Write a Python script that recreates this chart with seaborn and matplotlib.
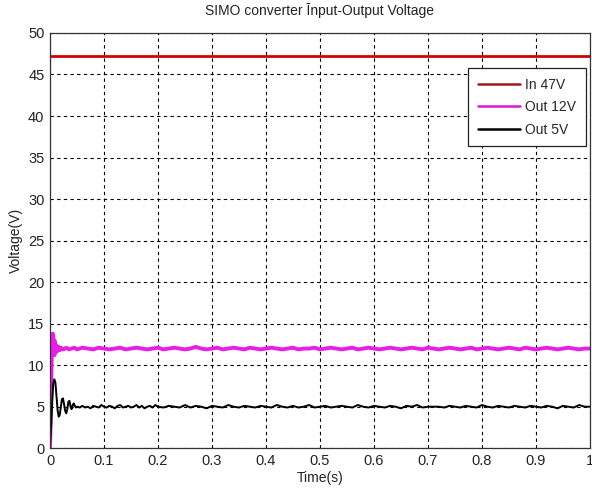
import matplotlib
matplotlib.use("Agg")
import matplotlib.pyplot as plt
import seaborn as sns
import numpy as np
import pandas as pd

sns.set_style("white")
plt.rcParams['font.family'] = ['Liberation Sans', 'DejaVu Sans']

title = "SIMO converter Īnput-Output Voltage"
x_ticks = [0, 0.1, 0.2, 0.3, 0.4, 0.5, 0.6, 0.7, 0.8, 0.9, 1.0]
x_tick_labels = ["0", "0.1", "0.2", "0.3", "0.4", "0.5", "0.6", "0.7", "0.8", "0.9", "1"]
y_ticks = [0, 5, 10, 15, 20, 25, 30, 35, 40, 45, 50]

# Input 47V
t_in = [0.0, 1.0]
v_in = [47.2, 47.2]

# Output 12V
t_12 = [0.0, 0.001, 0.002, 0.003, 0.004, 0.005, 0.006, 0.007, 0.008, 0.009, 0.010,
        0.012, 0.014, 0.016, 0.018, 0.020, 0.025, 0.030, 0.035, 0.040, 0.045,
        0.05, 0.06, 0.07, 0.08, 0.09, 0.10, 0.11, 0.12, 0.13, 0.14, 0.15, 0.16, 0.17, 0.18, 0.19,
        0.20, 0.21, 0.22, 0.23, 0.24, 0.25, 0.26, 0.27, 0.28, 0.29, 0.30, 0.31, 0.32, 0.33, 0.34,
        0.35, 0.36, 0.37, 0.38, 0.39, 0.40, 0.41, 0.42, 0.43, 0.44, 0.45, 0.46, 0.47, 0.48, 0.49,
        0.50, 0.51, 0.52, 0.53, 0.54, 0.55, 0.56, 0.57, 0.58, 0.59, 0.60, 0.61, 0.62, 0.63, 0.64,
        0.65, 0.66, 0.67, 0.68, 0.69, 0.70, 0.71, 0.72, 0.73, 0.74, 0.75, 0.76, 0.77, 0.78, 0.79,
        0.80, 0.81, 0.82, 0.83, 0.84, 0.85, 0.86, 0.87, 0.88, 0.89, 0.90, 0.91, 0.92, 0.93, 0.94,
        0.95, 0.96, 0.97, 0.98, 0.99, 1.00]
v_12 = [0.0, 3.0, 7.0, 10.5, 12.5, 13.8, 13.5, 12.8, 11.2, 12.9, 11.5,
        12.4, 11.7, 12.2, 11.8, 12.1, 11.9, 12.1, 11.9, 12.0, 12.1,
        11.9, 12.1, 12.0, 11.9, 12.1, 12.0, 11.9, 12.0, 12.1, 11.9, 12.0, 12.1, 12.0, 11.9, 12.0,
        12.1, 11.9, 12.0, 12.1, 12.0, 11.9, 12.0, 12.2, 12.0, 11.9, 12.0, 12.1, 11.9, 12.0, 12.1,
        12.0, 11.9, 12.1, 12.0, 11.9, 12.0, 12.1, 12.0, 11.9, 12.0, 12.1, 11.9, 12.0, 12.0, 12.1,
        11.9, 12.0, 12.1, 12.0, 11.9, 12.0, 12.1, 11.9, 12.0, 12.1, 12.0, 11.9, 12.0, 12.1, 12.0,
        11.9, 12.0, 12.1, 12.0, 11.9, 12.1, 12.0, 11.9, 12.0, 12.1, 12.0, 11.9, 12.0, 12.1, 11.9,
        12.0, 12.1, 12.0, 11.9, 12.0, 12.1, 12.0, 11.9, 12.1, 12.0, 11.9, 12.0, 12.1, 12.0, 11.9,
        12.0, 12.1, 12.0, 11.9, 12.0, 12.0]

# Output 5V
t_5 = [0.0, 0.002, 0.004, 0.006, 0.008, 0.010, 0.012, 0.014, 0.016, 0.018, 0.020,
       0.022, 0.024, 0.026, 0.028, 0.030, 0.032, 0.034, 0.036, 0.038, 0.040, 0.042, 0.044,
       0.046, 0.048,
       0.050, 0.055, 0.060, 0.065, 0.070, 0.075, 0.080, 0.085, 0.090, 0.095, 0.100,
       0.105, 0.110, 0.115, 0.120, 0.125, 0.130, 0.135, 0.140, 0.145, 0.150,
       0.155, 0.160, 0.165, 0.170, 0.175, 0.180, 0.185, 0.190, 0.195, 0.200,
       0.21, 0.22, 0.23, 0.24, 0.25, 0.26, 0.27, 0.28, 0.29, 0.30,
       0.31, 0.32, 0.33, 0.34, 0.35, 0.36, 0.37, 0.38, 0.39, 0.40,
       0.41, 0.42, 0.43, 0.44, 0.45, 0.46, 0.47, 0.48, 0.49, 0.50,
       0.51, 0.52, 0.53, 0.54, 0.55, 0.56, 0.57, 0.58, 0.59, 0.60,
       0.61, 0.62, 0.63, 0.64, 0.65, 0.66, 0.67, 0.68, 0.69, 0.70,
       0.71, 0.72, 0.73, 0.74, 0.75, 0.76, 0.77, 0.78, 0.79, 0.80,
       0.81, 0.82, 0.83, 0.84, 0.85, 0.86, 0.87, 0.88, 0.89, 0.90,
       0.91, 0.92, 0.93, 0.94, 0.95, 0.96, 0.97, 0.98, 0.99, 1.00]
v_5 = [0.5, 2.5, 5.5, 7.8, 8.3, 7.9, 6.2, 4.6, 3.8, 4.0, 5.0,
       5.9, 6.0, 5.3, 4.5, 4.2, 4.7, 5.6, 5.7, 5.0, 4.7, 5.2, 5.4,
       5.1, 4.9,
       5.0, 4.9, 5.1, 4.9, 5.0, 4.8, 5.1, 5.0, 4.9, 5.2, 5.0,
       4.9, 5.1, 5.0, 4.8, 5.1, 5.2, 4.9, 5.0, 5.1, 4.9,
       5.0, 5.2, 4.9, 5.1, 4.8, 5.0, 5.1, 4.9, 5.2, 5.0,
       4.9, 5.1, 5.0, 4.9, 5.2, 4.9, 5.1, 5.0, 4.8, 5.1,
       5.0, 4.9, 5.2, 5.0, 4.9, 5.1, 5.0, 4.9, 5.1, 5.0,
       4.9, 5.2, 5.0, 4.9, 5.1, 4.9, 5.0, 5.2, 4.9, 5.0,
       5.1, 4.9, 5.0, 5.1, 5.0, 4.9, 5.2, 5.0, 4.9, 5.1,
       5.0, 4.9, 5.1, 5.0, 4.8, 5.1, 5.0, 5.2, 4.9, 5.0,
       5.0, 5.0, 4.9, 5.1, 5.0, 4.9, 5.1, 5.0, 4.9, 5.2,
       5.0, 4.9, 5.1, 5.0, 4.9, 5.1, 5.0, 4.9, 5.1, 5.0,
       4.9, 5.1, 5.0, 4.8, 5.1, 5.0, 4.9, 5.2, 5.0, 5.0]

series_labels = ["In 47V", "Out 12V", "Out 5V"]
series_colors = ["#d40000", "#e61ee6", "#000000"]
legend_colors = ["#9e1a1a", "#d11dd1", "#000000"]

fig = plt.figure(figsize=(5.92, 4.92), dpi=100)
ax = fig.add_axes([0.0845, 0.089, 0.912, 0.844])

sns.lineplot(x=t_in, y=v_in, ax=ax, color=series_colors[0], linewidth=2.0, label=series_labels[0])
sns.lineplot(x=t_12, y=v_12, ax=ax, color=series_colors[1], linewidth=2.8, label=series_labels[1])
sns.lineplot(x=t_5, y=v_5, ax=ax, color=series_colors[2], linewidth=1.4, label=series_labels[2])

ax.set_xlim(0, 1)
ax.set_ylim(0, 50)
ax.set_xticks(x_ticks)
ax.set_xticklabels(x_tick_labels)
ax.set_yticks(y_ticks)
ax.tick_params(direction="in", length=4, labelsize=10.5, colors="#222222", pad=4)
ax.grid(True, color="black", linestyle=(0, (3, 3)), linewidth=0.8)
for s in ax.spines.values():
    s.set_color("#333333")
    s.set_linewidth(0.9)

ax.set_title(title, fontsize=10, color="#222222", pad=13)
ax.set_xlabel("Time(s)", fontsize=10, color="#222222", labelpad=2)
ax.set_ylabel("Voltage(V)", fontsize=10, color="#222222", labelpad=4)

leg = ax.legend(loc="upper right", bbox_to_anchor=(0.993, 0.915), frameon=True, fancybox=False,
                fontsize=10, handlelength=3.0, borderpad=0.7, labelspacing=0.6,
                handletextpad=0.4, borderaxespad=0.0)
leg.get_frame().set_edgecolor("#222222")
leg.get_frame().set_linewidth(0.9)
leg.get_frame().set_alpha(1)
for h, c in zip(leg.get_lines(), legend_colors):
    h.set_color(c)
    h.set_linewidth(1.8)

fig.savefig("out.png", dpi=100, facecolor="white")
